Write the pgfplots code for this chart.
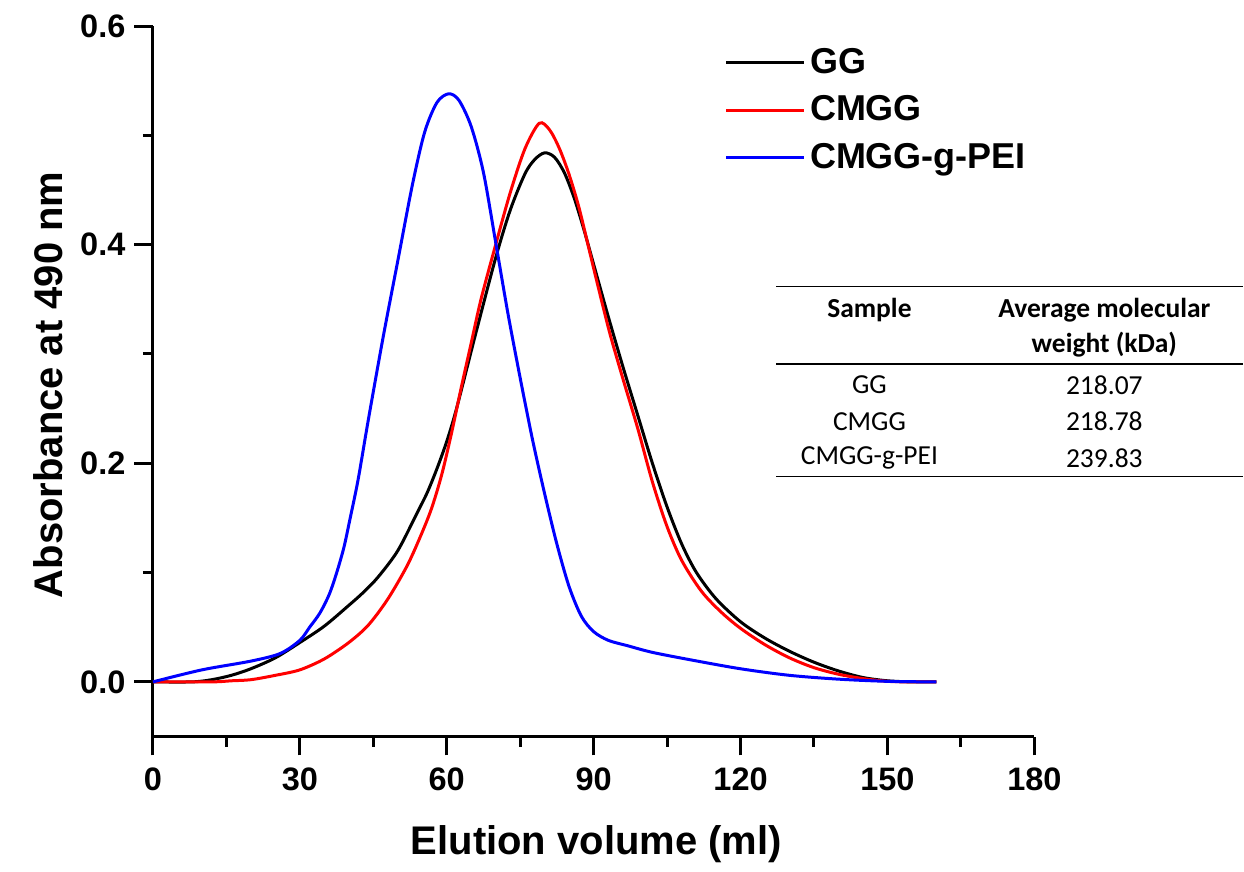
\documentclass[border=0pt]{standalone}
\usepackage{fontspec}
\setmainfont{Liberation Sans}
\newfontfamily\calibri{Carlito}
\usepackage{pgfplots}
\pgfplotsset{compat=1.18}

% GPC elution curves
\pgfplotstableread{
x y
0 0
8 0
12 0.002
16 0.006
20 0.012
25 0.022
30 0.036
35 0.051
40 0.07
43 0.082
46 0.096
50 0.12
54 0.155
56 0.173
58 0.195
60 0.22
62 0.25
66 0.32
70 0.388
73 0.432
76 0.465
78 0.478
80 0.484
82 0.48
84 0.466
86 0.443
88 0.414
90 0.382
93 0.334
96 0.288
99 0.244
102 0.2
105 0.16
108 0.126
111 0.1
115 0.076
120 0.055
125 0.04
130 0.028
135 0.018
140 0.01
145 0.004
150 0.001
155 0
160 0
}\gg

\pgfplotstableread{
x y
0 0
12 0
16 0.001
20 0.002
25 0.006
30 0.011
35 0.021
40 0.036
44 0.052
48 0.076
52 0.107
55 0.137
57 0.16
59 0.19
61 0.228
63 0.27
65 0.31
67 0.35
70 0.4
73 0.448
76 0.488
78.9 0.511
81 0.505
83 0.488
85 0.464
87 0.434
89 0.397
91 0.36
93.3 0.319
96 0.277
99 0.232
102 0.183
105 0.142
108 0.111
112 0.083
116 0.064
120 0.049
125 0.034
130 0.022
135 0.013
140 0.007
145 0.003
150 0.0005
155 0
160 0
}\cmgg

\pgfplotstableread{
x y
0 0
10 0.011
20 0.019
26 0.026
30 0.038
32 0.05
34.1 0.063
36 0.08
37.5 0.0995
39 0.123
40.2 0.148
41.9 0.185
44 0.24
47 0.315
50 0.385
53 0.455
55.5 0.503
58 0.53
60.4 0.538
62.5 0.532
65 0.508
67.5 0.466
70 0.402
72.5 0.337
75 0.278
77.5 0.222
80 0.172
82.5 0.126
85 0.087
87.5 0.06
90 0.046
93 0.038
97 0.033
102 0.027
110 0.02
120 0.012
130 0.006
140 0.0025
150 0.0005
160 0
}\pei

\begin{document}
\begin{tikzpicture}
\begin{axis}[
  scale only axis,
  width=352.8pt, height=284.4pt,
  xmin=0, xmax=180, ymin=-0.05, ymax=0.6,
  axis lines=left,
  x axis line style={-}, y axis line style={-},
  axis line style={line width=1.2pt},
  clip=false,
  xtick={0,30,...,180},
  ytick={0,0.2,0.4,0.6},
  minor x tick num=1,
  minor y tick num=1,
  tick align=outside,
  major tick length=7.5pt,
  minor tick length=4pt,
  every tick/.style={line width=1.2pt, black},
  tick label style={font=\fontsize{13}{15}\selectfont\bfseries},
  xticklabel style={yshift=-1.5pt},
  /pgf/number format/assume math mode=true,
  yticklabel style={/pgf/number format/fixed, /pgf/number format/fixed zerofill, /pgf/number format/precision=1},
  xlabel={Elution volume (ml)},
  ylabel={Absorbance at 490 nm},
  label style={font=\fontsize{16}{19}\selectfont\bfseries},
  xlabel style={at={(axis description cs:0.503,-0.152)}, anchor=center},
  ylabel style={at={(axis description cs:-0.119,0.495)}, anchor=center, rotate=0},
  legend style={at={(axis description cs:0.648,0.9765)}, anchor=north west, draw=none, fill=none,
    font=\fontsize{14.4}{17}\selectfont\bfseries, row sep=3.5pt, inner sep=0pt},
  legend cell align=left,
  legend image code/.code={\draw[#1] (0pt,0pt) -- (31pt,0pt);},
]
\addplot[black, line width=1.2pt, smooth] table {\gg};
\addlegendentry{GG}
\addplot[red, line width=1.2pt, smooth] table {\cmgg};
\addlegendentry{CMGG}
\addplot[blue, line width=1.2pt, smooth] table {\pei};
\addlegendentry{CMGG-g-PEI}

% inset table
\draw[line width=0.6pt] (rel axis cs:0.7071,0.6333) -- (rel axis cs:1.237,0.6333);
\draw[line width=0.6pt] (rel axis cs:0.7071,0.5246) -- (rel axis cs:1.237,0.5246);
\draw[line width=0.6pt] (rel axis cs:0.7071,0.3661) -- (rel axis cs:1.237,0.3661);
\begin{scope}[every node/.style={font=\calibri\fontsize{11}{13}\selectfont, anchor=center, inner sep=0pt}]
\node[font=\calibri\bfseries\fontsize{11}{13}\selectfont] at (rel axis cs:0.8129,0.6006) {Sample};
\node[font=\calibri\bfseries\fontsize{11}{13}\selectfont] at (rel axis cs:1.0794,0.6006) {Average molecular};
\node[font=\calibri\bfseries\fontsize{11}{13}\selectfont] at (rel axis cs:1.0794,0.5513) {weight (kDa)};
\node at (rel axis cs:0.8129,0.4951) {GG};
\node at (rel axis cs:1.0794,0.4951) {218.07};
\node at (rel axis cs:0.8129,0.4435) {CMGG};
\node at (rel axis cs:1.0794,0.4435) {218.78};
\node at (rel axis cs:0.8129,0.3920) {CMGG-g-PEI};
\node at (rel axis cs:1.0794,0.3920) {239.83};
\end{scope}
\path (rel axis cs:-0.1735,-0.1857) rectangle (rel axis cs:1.237,1.0366);
\end{axis}
\end{tikzpicture}
\end{document}
